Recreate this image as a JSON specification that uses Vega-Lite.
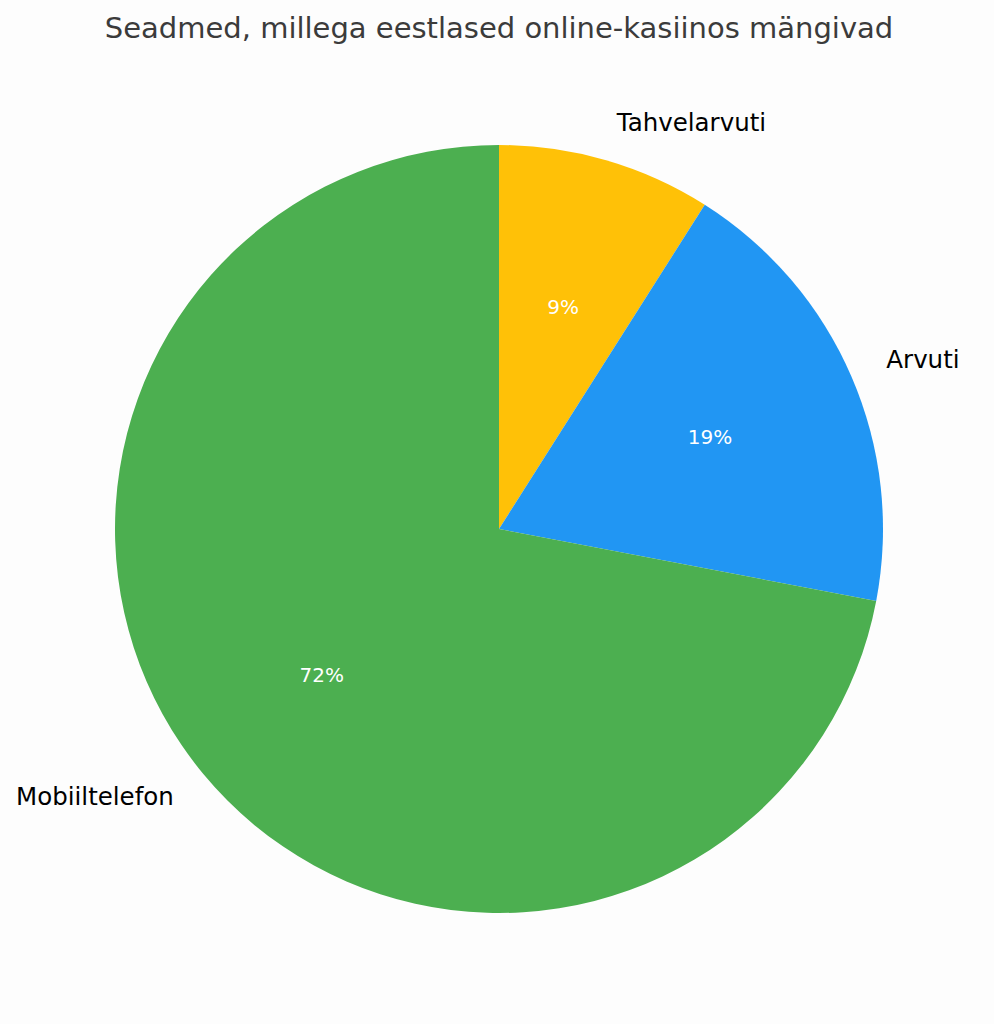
{
  "$schema": "https://vega.github.io/schema/vega-lite/v6.json",
  "autosize": "none",
  "width": 990,
  "height": 990,
  "padding": {"left": 4, "top": 34, "right": 0, "bottom": 0},
  "background": "#fdfdfd",
  "title": {
    "text": "Seadmed, millega eestlased online-kasiinos mängivad",
    "font": "DejaVu Sans",
    "fontSize": 29,
    "fontWeight": "normal",
    "color": "#3b3b3b",
    "anchor": "middle",
    "offset": -10
  },
  "data": {
    "values": [
      {"device": "Tahvelarvuti", "share": 9, "order": 1, "pct": "9%"},
      {"device": "Arvuti", "share": 19, "order": 2, "pct": "19%"},
      {"device": "Mobiiltelefon", "share": 72, "order": 3, "pct": "72%"}
    ]
  },
  "encoding": {
    "theta": {"field": "share", "type": "quantitative", "stack": true},
    "order": {"field": "order", "type": "quantitative"}
  },
  "layer": [
    {
      "mark": {"type": "arc", "outerRadius": 384},
      "encoding": {
        "color": {
          "field": "device",
          "type": "nominal",
          "scale": {"domain": ["Tahvelarvuti", "Arvuti", "Mobiiltelefon"], "range": ["#FFC107", "#2196F3", "#4CAF50"]},
          "legend": null
        }
      }
    },
    {
      "mark": {"type": "text", "radius": 230, "font": "DejaVu Sans", "fontSize": 20, "color": "white", "align": "center", "baseline": "middle"},
      "encoding": {"text": {"field": "pct"}}
    },
    {
      "mark": {"type": "text", "radius": 422, "font": "DejaVu Sans", "fontSize": 24.5, "color": "black", "align": "left", "baseline": "middle"},
      "encoding": {
        "text": {"field": "device"},
        "opacity": {"condition": {"test": "datum.device === 'Mobiiltelefon'", "value": 0}, "value": 1}
      }
    },
    {
      "mark": {"type": "text", "radius": 422, "font": "DejaVu Sans", "fontSize": 24.5, "color": "black", "align": "right", "baseline": "middle"},
      "encoding": {
        "text": {"field": "device"},
        "opacity": {"condition": {"test": "datum.device === 'Mobiiltelefon'", "value": 1}, "value": 0}
      }
    }
  ],
  "config": {"view": {"stroke": null}}
}
